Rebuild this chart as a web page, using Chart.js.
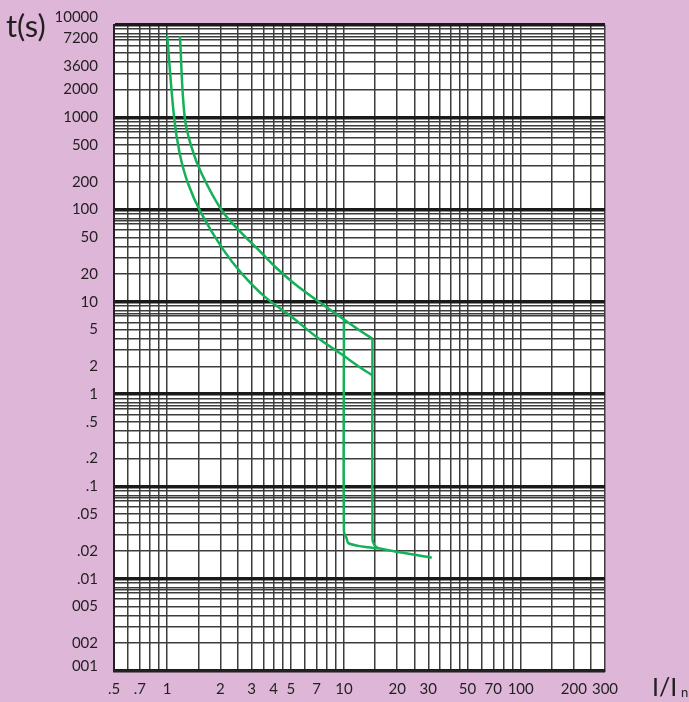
<!DOCTYPE html>
<html>
<head>
<meta charset="utf-8">
<script src="https://cdn.jsdelivr.net/npm/chart.js@4.4.1/dist/chart.umd.min.js"></script>
<style>
  html, body { margin: 0; padding: 0; background: #ddb6d8; }
  #curveChart { display: block; }
</style>
</head>
<body>
<canvas id="curveChart" width="689" height="702"></canvas>
<script>
// trip curve, I/In against t(s)
const upperThermalI = [1.18, 1.255, 1.37, 1.56, 2.03, 2.63, 3.42, 4.21, 5.52, 10.1, 12.6, 14.5];
const upperThermalT = [7600, 1015, 481, 249, 99, 55.8, 33.9, 22.7, 14.6, 6.37, 4.75, 4.0];

const lowerThermalI = [1.0, 1.093, 1.176, 1.31, 1.56, 2.07, 2.63, 3.56, 5.05, 7.16, 9.7, 12.6, 14.5];
const lowerThermalT = [7600, 1015, 407, 193, 91, 37, 20.5, 11.4, 6.9, 4.03, 2.7, 1.9, 1.6];

const upperMagI = [14.5, 14.5, 14.87, 15.67, 31.4];
const upperMagT = [4.0, 0.027, 0.0232, 0.0214, 0.0169];

const lowerMagI = [10, 10, 10.35, 10.6, 12.07, 13.75, 15.67];
const lowerMagT = [6.4, 0.0324, 0.0275, 0.0243, 0.0227, 0.0219, 0.0212];

// grid and tick labels
const xGrid = [0.5, 0.6, 0.7, 0.8, 0.9, 1, 1.5, 2, 2.5, 3, 3.5, 4, 4.5, 5, 6, 7, 8, 9,
               10, 15, 20, 25, 30, 35, 40, 45, 50, 60, 70, 80, 90, 100, 150, 200, 250, 300];
const xLabelValues = [0.5, 0.7, 1, 2, 3, 4, 5, 7, 10, 20, 30, 50, 70, 100, 200, 300];
const xLabelText = ['.5', '.7', '1', '2', '3', '4', '5', '7', '10', '20', '30', '50', '70', '100', '200', '300'];

const yDecades = [0.001, 0.01, 0.1, 1, 10, 100, 1000];
const yMantissa = [1, 2, 3, 4, 5, 6, 7, 7.5, 8, 9];
const yLabelValues = [10000, 7200, 3600, 2000, 1000, 500, 200, 100, 50, 20, 10, 5, 2, 1,
                      0.5, 0.2, 0.1, 0.05, 0.02, 0.01, 0.005, 0.002, 0.001];
const yLabelText = ['10000', '7200', '3600', '2000', '1000', '500', '200', '100', '50', '20', '10', '5', '2', '1',
                    '.5', '.2', '.1', '.05', '.02', '.01', '005', '002', '001'];

const green = '#13b158';
const gridColor = '#3c3c3c';

let yGrid = [10000];
yDecades.forEach(d => yMantissa.forEach(m => yGrid.push(+(d * m).toPrecision(6))));

const same = (a, b) => Math.abs(Math.log10(a) - Math.log10(b)) < 1e-6;
const inList = (v, list) => list.some(w => same(v, w));
const isDecade = v => Math.abs(Math.log10(v) - Math.round(Math.log10(v))) < 1e-6;

function toPoints(xs, ys) {
    return xs.map((x, i) => ({ x: x, y: ys[i] }));
}

function mergeTicks(a, b) {
    let all = a.slice();
    b.forEach(v => { if (!inList(v, all)) all.push(v); });
    return all.sort((p, q) => p - q).map(v => ({ value: v }));
}

function lineSet(xs, ys, tension) {
    return {
        data: toPoints(xs, ys),
        borderColor: green,
        borderWidth: 2.5,
        pointRadius: 0,
        fill: false,
        tension: tension
    };
}

const extras = {
    id: 'extras',
    beforeDraw(chart) {
        const { ctx, chartArea } = chart;
        ctx.save();
        ctx.fillStyle = '#ffffff';
        ctx.fillRect(chartArea.left, chartArea.top, chartArea.right - chartArea.left, chartArea.bottom - chartArea.top);
        ctx.restore();
    },
    afterDraw(chart) {
        const ctx = chart.ctx;
        ctx.save();
        ctx.fillStyle = '#231f20';
        ctx.textBaseline = 'alphabetic';
        ctx.font = '31px Lato';
        ctx.fillText('t(s)', 6, 37);
        ctx.font = '25px Lato';
        ctx.fillText('I/I', 652, 696);
        ctx.font = '13px Lato';
        ctx.fillText('n', 681, 697);
        ctx.restore();
    }
};

const ctx = document.getElementById('curveChart').getContext('2d');
const curveChart = new Chart(ctx, {
    type: 'line',
    data: {
        datasets: [
            lineSet(upperThermalI, upperThermalT, 0.4),
            lineSet(lowerThermalI, lowerThermalT, 0.4),
            lineSet(upperMagI, upperMagT, 0.3),
            lineSet(lowerMagI, lowerMagT, 0.3)
        ]
    },
    options: {
        responsive: false,
        animation: false,
        devicePixelRatio: 1,
        layout: { padding: { left: 0, right: 84, top: 25, bottom: 0 } },
        plugins: { legend: { display: false }, tooltip: { enabled: false } },
        scales: {
            x: {
                type: 'logarithmic',
                min: 0.5,
                max: 300,
                afterBuildTicks: axis => { axis.ticks = mergeTicks(xGrid, xLabelValues); },
                afterFit: axis => { axis.height = 31; axis.paddingLeft = 0; axis.paddingRight = 0; },
                border: { display: true, color: '#222', width: 2 },
                grid: {
                    drawTicks: false,
                    color: c => (c.tick && inList(c.tick.value, xGrid)) ? gridColor : 'rgba(0,0,0,0)',
                    lineWidth: 1.5
                },
                ticks: {
                    autoSkip: false,
                    maxRotation: 0,
                    padding: 9,
                    color: '#231f20',
                    font: { family: 'Lato', size: 15 },
                    callback: function(value) {
                        const i = xLabelValues.findIndex(v => same(v, value));
                        return i >= 0 ? xLabelText[i] : '';
                    }
                }
            },
            y: {
                type: 'logarithmic',
                min: 0.001,
                max: 10000,
                afterBuildTicks: axis => { axis.ticks = mergeTicks(yGrid, yLabelValues); },
                afterFit: axis => { axis.width = 114; axis.paddingTop = 0; axis.paddingBottom = 0; },
                border: { display: true, color: '#222', width: 2 },
                grid: {
                    drawTicks: false,
                    color: c => (c.tick && inList(c.tick.value, yGrid)) ? (isDecade(c.tick.value) ? '#1a1a1a' : gridColor) : 'rgba(0,0,0,0)',
                    lineWidth: c => (c.tick && isDecade(c.tick.value)) ? 3.5 : 1.5
                },
                ticks: {
                    autoSkip: false,
                    padding: 16,
                    color: '#231f20',
                    font: c => {
                        const v = c.tick ? c.tick.value : 1;
                        if (same(v, 10000)) return { family: 'Lato', size: 15, lineHeight: '16px' };
                        if (same(v, 0.001)) return { family: 'Lato', size: 15, lineHeight: '10px' };
                        return { family: 'Lato', size: 15 };
                    },
                    callback: function(value) {
                        const i = yLabelValues.findIndex(v => same(v, value));
                        if (i < 0) return '';
                        if (same(value, 10000) || same(value, 0.001)) return [yLabelText[i], ''];
                        return yLabelText[i];
                    }
                }
            }
        }
    },
    plugins: [extras]
});
</script>
</body>
</html>
